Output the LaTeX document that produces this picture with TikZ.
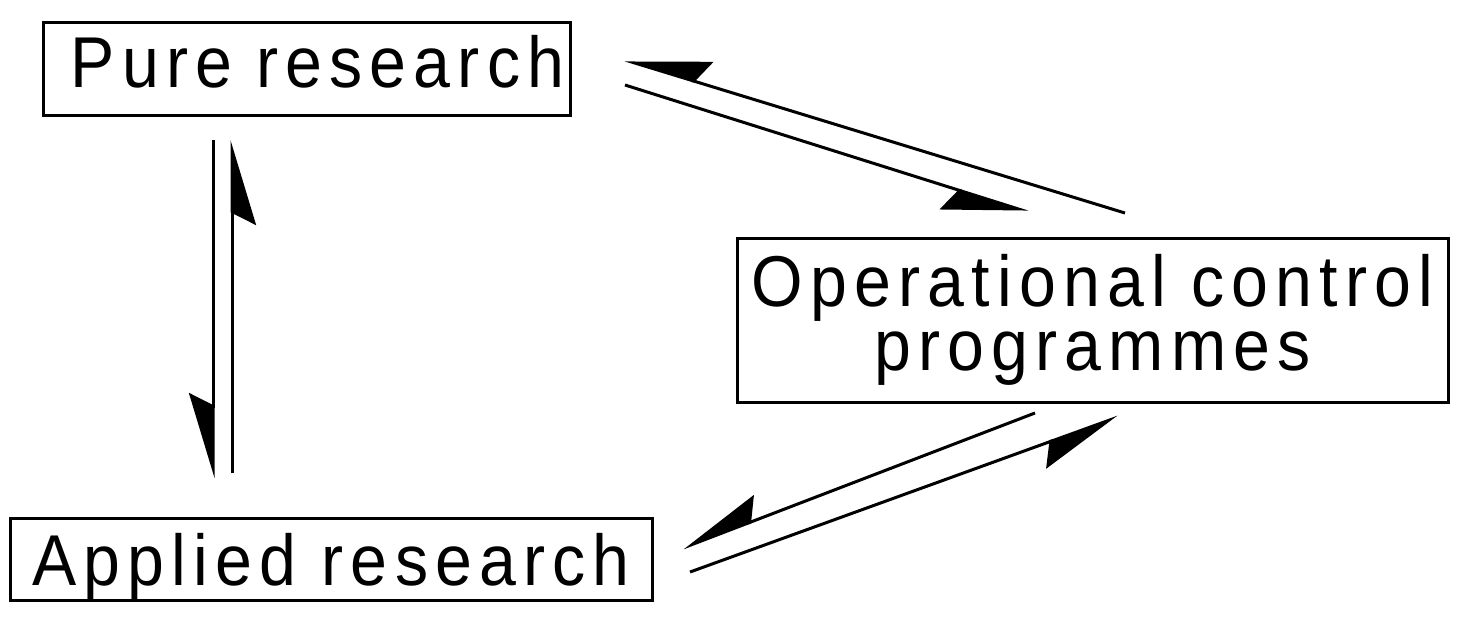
\documentclass[tikz,border=0pt]{standalone}
\usepackage{fontspec}
\setmainfont{Liberation Sans}[LetterSpace = 10, FakeStretch = 0.92]
\usetikzlibrary{arrows.meta}
\tikzset{
  box/.style = {draw = black, line width = 1.5pt, inner sep = 0pt, align = center, font = \fontsize{36}{32}\selectfont},
  flow/.style = {line width = 1.5pt, -{Stealth[harpoon, swap, length = 40pt, width = 24pt, inset = 6pt]}}
}
\begin{document}
\begin{tikzpicture}[x = 0.5pt, y = -0.5pt]
\useasboundingbox (0,0) rectangle (1464,618);
\node[box, minimum width = 263.5pt, minimum height = 46.5pt, text width = 258pt, align = right, text depth = 7pt] (pure) at (306.5,68.5) {Pure research};
\node[box, minimum width = 321pt, minimum height = 41pt, text depth = 0pt] (applied) at (331,559) {Applied research};
\node[box, minimum width = 355.5pt, minimum height = 82pt] (oper) at (1092.5,320) {Operational control\\programmes};
\coordinate (pa) at (625,60);
\coordinate (pb) at (625,85);
\coordinate (pc) at (213,140);
\coordinate (pd) at (232,140);
\coordinate (ac) at (213,478);
\coordinate (ad) at (232,473);
\coordinate (aa) at (683,548);
\coordinate (ab) at (690,572);
\coordinate (oa) at (1125,213);
\coordinate (ob) at (1028,212);
\coordinate (oc) at (1035,413);
\coordinate (od) at (1118,417);
\foreach \from/\to in {oa/pa, pb/ob, pc/ac, ad/pd, oc/aa, ab/od}
  \draw[flow] (\from) -- (\to);
\end{tikzpicture}
\end{document}
